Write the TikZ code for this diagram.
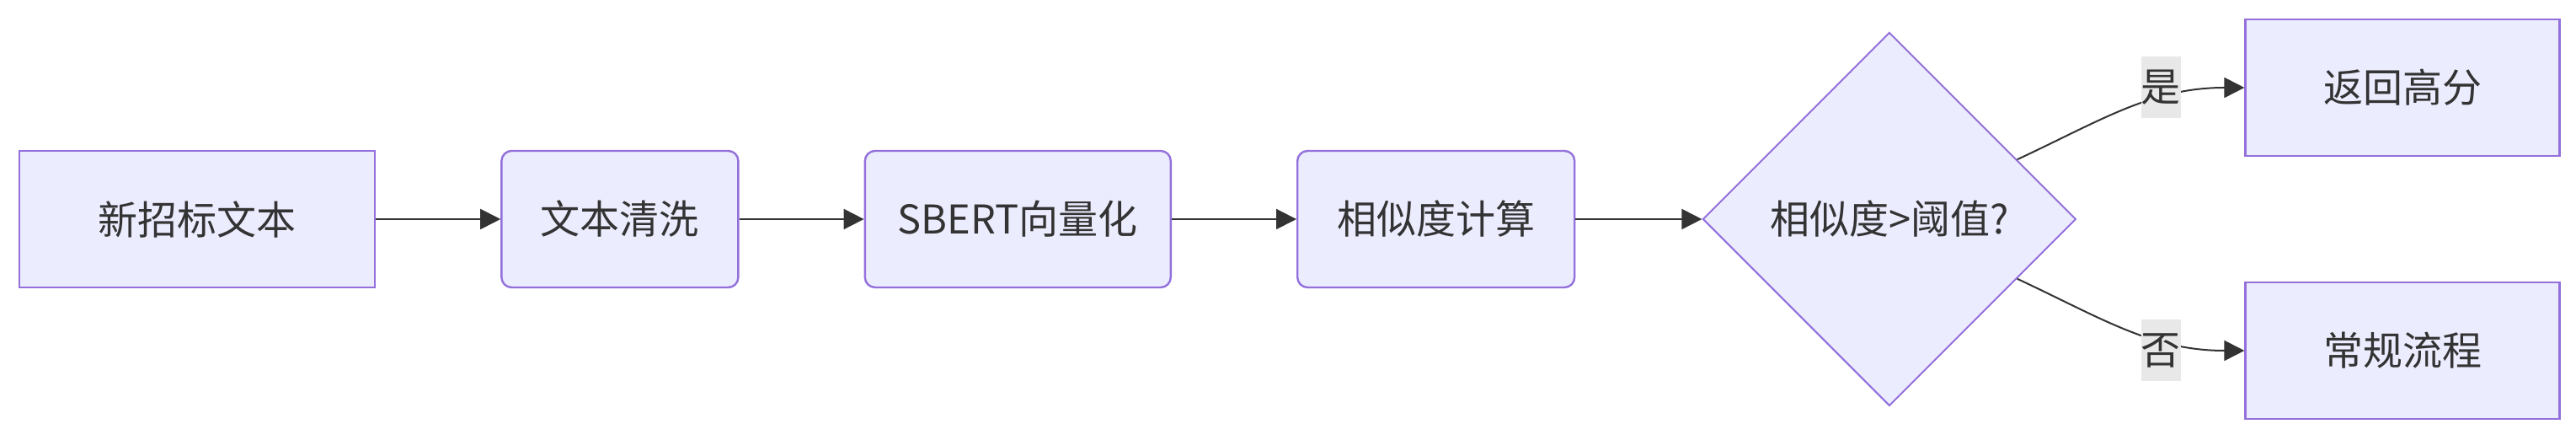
\documentclass[tikz,border=0pt]{standalone}
\usepackage{fontspec}
\setmainfont{Noto Sans CJK SC}
\usepackage{tikz}
\usetikzlibrary{arrows.meta,positioning,calc,shapes.geometric}
\definecolor{tbfill}{HTML}{ECECFF}
\definecolor{tbline}{HTML}{9370DB}
\definecolor{tbtext}{HTML}{333333}
\definecolor{tblabelbg}{HTML}{E8E8E8}
\tikzset{
  tbblock/.style={draw=tbline, fill=tbfill, line width=1.2pt, align=center,
    font=\fontsize{23.5pt}{28pt}\selectfont, text=tbtext, inner sep=0pt, minimum height=81pt},
  tbround/.style={tbblock, rounded corners=6pt},
  tbdecide/.style={diamond, aspect=1, draw=tbline, fill=tbfill, line width=1pt,
    font=\fontsize{23.5pt}{28pt}\selectfont, text=tbtext, inner sep=0pt,
    minimum width=221.5pt, minimum height=221.5pt},
  tbarrow/.style={-{Triangle[length=12pt,width=12pt]}, line width=1pt, draw=tbtext},
  tblabel/.style={fill=tblabelbg, text=tbtext, font=\fontsize{23.5pt}{28pt}\selectfont,
    inner sep=0pt, minimum width=23pt, minimum height=36.5pt}
}
\begin{document}
\begin{tikzpicture}
  \useasboundingbox (0,0) rectangle (1529pt,261pt);
  \node[tbblock, minimum width=211pt] (src) at (117pt,131pt) {新招标文本};
  \node[tbround, right=74pt of src, minimum width=140.5pt] (clean) {文本清洗};
  \node[tbround, right=74pt of clean, minimum width=181.5pt] (vec) {SBERT向量化};
  \node[tbround, right=74pt of vec, minimum width=164.5pt] (sim) {相似度计算};
  \node[tbdecide, right=75pt of sim] (dec) {相似度>阈值?};
  \node[tbblock, anchor=west, minimum width=186.5pt] (high) at ($(dec.east)+(99.5pt,78pt)$) {返回高分};
  \node[tbblock, anchor=west, minimum width=186.5pt] (normal) at ($(dec.east)+(99.5pt,-78pt)$) {常规流程};
  \draw[tbarrow] (src) -- (clean);
  \draw[tbarrow] (clean) -- (vec);
  \draw[tbarrow] (vec) -- (sim);
  \draw[tbarrow] (sim) -- (dec);
  \draw[tbarrow] (dec.25) to[out=25, in=180] (high.west);
  \draw[tbarrow] (dec.-25) to[out=-25, in=180] (normal.west);
  \node[tblabel] (yes) at ($(high.west)+(-49.5pt,0)$) {是};
  \node[tblabel] (no) at ($(normal.west)+(-49.5pt,0)$) {否};
\end{tikzpicture}
\end{document}
